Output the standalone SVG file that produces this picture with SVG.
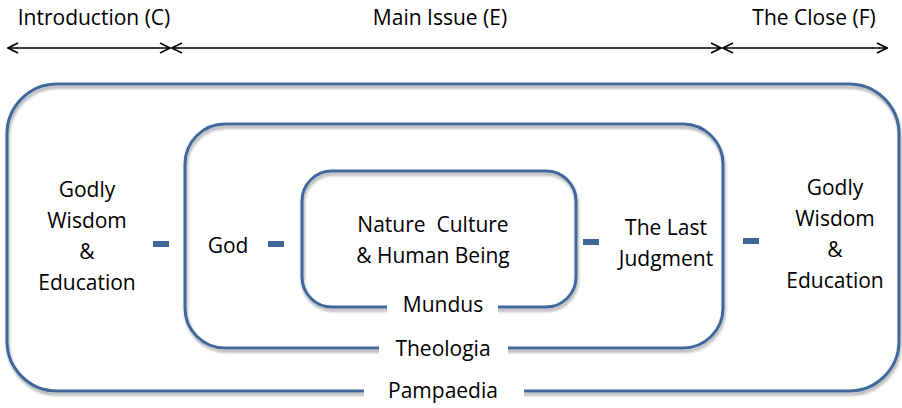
<svg xmlns="http://www.w3.org/2000/svg" width="902" height="408" viewBox="0 0 902 408">
<defs>
<filter id="sh" x="-5%" y="-5%" width="110%" height="115%">
<feGaussianBlur in="SourceAlpha" stdDeviation="1.5"/>
<feOffset dx="1" dy="2.5" result="b"/>
<feComponentTransfer><feFuncA type="linear" slope="0.35"/></feComponentTransfer>
<feMerge><feMergeNode/><feMergeNode in="SourceGraphic"/></feMerge>
</filter>
<marker id="ah" viewBox="0 0 12 12" refX="11" refY="6" markerWidth="12" markerHeight="12" markerUnits="userSpaceOnUse" orient="auto-start-reverse">
<path d="M1,1 L11,6 L1,11" fill="none" stroke="#000" stroke-width="1.6"/>
</marker>
</defs>
<style>
.t{font-family:"Open Sans","Noto Sans",sans-serif;font-size:21px;fill:#000;text-anchor:middle}
.box{fill:none;stroke:#41679a;stroke-width:3;filter:url(#sh)}
.dash{fill:#41679a}
.gap{fill:#fff}
.arr{stroke:#000;stroke-width:1.6;fill:none}
</style>
<rect width="902" height="408" fill="#fff"/>
<g id="arrows">
<line class="arr" x1="8" y1="48" x2="170" y2="48" marker-start="url(#ah)" marker-end="url(#ah)"/>
<line class="arr" x1="172" y1="48" x2="721" y2="48" marker-start="url(#ah)" marker-end="url(#ah)"/>
<line class="arr" x1="723" y1="48" x2="887" y2="48" marker-start="url(#ah)" marker-end="url(#ah)"/>
</g>
<g id="headers">
<text class="t" x="94" y="25">Introduction (C)</text>
<text class="t" x="440" y="25">Main Issue (E)</text>
<text class="t" x="814" y="25">The Close (F)</text>
</g>
<g id="pampaedia">
<rect class="box" x="7" y="84" width="892" height="307" rx="50" ry="50"/>
<rect class="gap" x="364" y="380" width="160" height="28"/>
<text class="t" x="443" y="398">Pampaedia</text>
</g>
<g id="theologia">
<rect class="box" x="185" y="124" width="538" height="224" rx="40" ry="40"/>
<rect class="gap" x="379" y="338" width="129" height="20"/>
<text class="t" x="443" y="356">Theologia</text>
</g>
<g id="mundus">
<rect class="box" x="302" y="171" width="274" height="136" rx="30" ry="30"/>
<rect class="gap" x="387" y="297" width="111" height="18"/>
<text class="t" x="443" y="312">Mundus</text>
</g>
<g id="left">
<text class="t" x="87" y="197">Godly</text>
<text class="t" x="87" y="228">Wisdom</text>
<text class="t" x="87" y="259">&amp;</text>
<text class="t" x="87" y="290">Education</text>
</g>
<g id="god"><text class="t" x="228" y="253">God</text></g>
<g id="nature">
<text class="t" x="433" y="232">Nature&#160; Culture</text>
<text class="t" x="433" y="263">&amp; Human Being</text>
</g>
<g id="judgment">
<text class="t" x="666" y="235">The Last</text>
<text class="t" x="666" y="266">Judgment</text>
</g>
<g id="right">
<text class="t" x="835" y="195">Godly</text>
<text class="t" x="835" y="226">Wisdom</text>
<text class="t" x="835" y="257">&amp;</text>
<text class="t" x="835" y="288">Education</text>
</g>
<g id="connectors">
<rect class="dash" x="153" y="241" width="16" height="6"/>
<rect class="dash" x="268" y="241" width="16" height="6"/>
<rect class="dash" x="583" y="239" width="16" height="6"/>
<rect class="dash" x="743" y="238" width="16" height="6"/>
</g>
</svg>
